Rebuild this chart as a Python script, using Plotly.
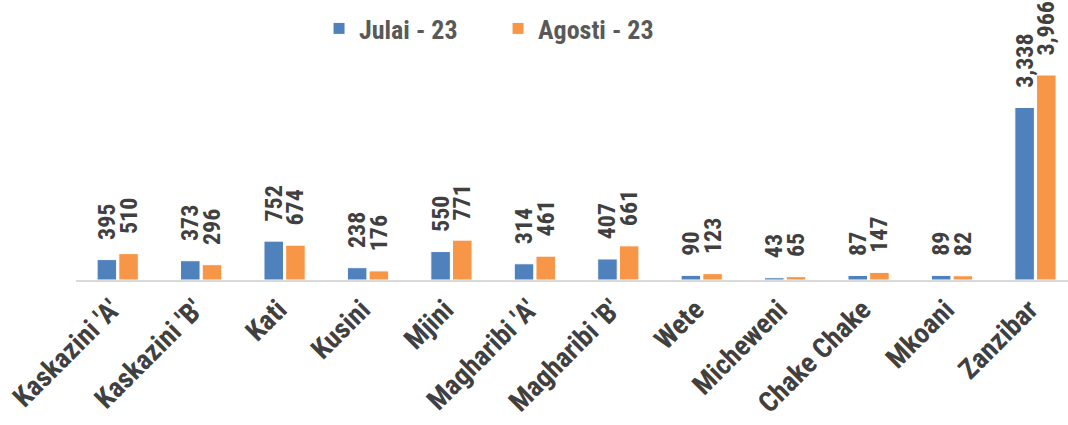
import plotly.graph_objects as go

categories = ["Kaskazini 'A'", "Kaskazini 'B'", "Kati", "Kusini", "Mjini", "Magharibi 'A'",
              "Magharibi 'B'", "Wete", "Micheweni", "Chake Chake", "Mkoani", "Zanzibar"]
julai = [395, 373, 752, 238, 550, 314, 407, 90, 43, 87, 89, 3338]
agosti = [510, 296, 674, 176, 771, 461, 661, 123, 65, 147, 82, 3966]
series_names = ["Julai - 23", "Agosti - 23"]

FONT = "Liberation Sans Narrow, Arial Narrow, Roboto Condensed, Liberation Sans, Arial"
BLUE = "#4F81BD"
ORANGE = "#F79646"
PAD = "\u00a0\u00a0\u00a0"

fig = go.Figure()
for name, vals, col in [(series_names[0], julai, BLUE), (series_names[1], agosti, ORANGE)]:
    fig.add_trace(go.Bar(
        x=categories, y=vals, name=name,
        marker=dict(color=col, line=dict(color="white", width=1)),
        text=[PAD + f"{v:,}" for v in vals], textposition="outside", textangle=-90,
        constraintext="none",
        textfont=dict(family=FONT, size=24, color="#404040", weight="bold"),
        cliponaxis=False,
    ))

fig.update_layout(
    width=1068, height=425,
    margin=dict(l=76, r=0, t=5, b=145),
    paper_bgcolor="white", plot_bgcolor="white",
    barmode="group", bargap=0.48, bargroupgap=0.1,
    showlegend=True,
    legend=dict(orientation="h", x=0.245, y=1.0, xanchor="left", yanchor="top",
                font=dict(family=FONT, size=26, color="#595959", weight="bold"),
                itemwidth=30, entrywidth=134, entrywidthmode="pixels",
                bgcolor="rgba(0,0,0,0)"),
    uniformtext=dict(mode="show", minsize=24),
    font=dict(family=FONT),
)
fig.update_xaxes(range=[-0.5, 11.39], tickangle=-45, showline=True, linecolor="#D9D9D9",
                 linewidth=2, ticks="", showgrid=False, automargin=False,
                 ticklabelshift=-6,
                 tickfont=dict(family=FONT, size=28, color="#404040", weight="bold"))
fig.update_yaxes(range=[0, 5320], visible=False, showgrid=False, zeroline=False,
                 automargin=False)

fig.write_html("out.html", post_script="document.body.style.margin='0';",
               config={"displayModeBar": False})
